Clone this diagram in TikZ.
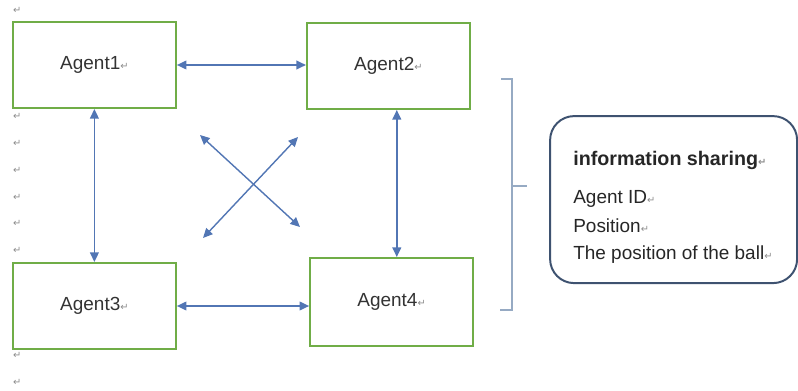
\documentclass[tikz,border=0pt]{standalone}
\usepackage{fontspec}
\setmainfont{Liberation Sans}
\newfontfamily\symfont{DejaVu Sans}
\usetikzlibrary{arrows.meta}

\definecolor{agentgreen}{RGB}{112,173,71}
\definecolor{linkblue}{RGB}{82,118,180}
\definecolor{bracketgray}{RGB}{150,170,195}
\definecolor{infoframe}{RGB}{62,82,112}

\newcommand{\pmark}{{\symfont\color{black!45}\fontsize{7}{7}\selectfont ↵}}

\begin{document}
\begin{tikzpicture}[
        agentbox/.style={draw=agentgreen, line width=1.4pt, minimum width=4.075cm,
            minimum height=2.15cm, inner sep=0pt, text=black!80,
            font=\fontsize{13.5}{15}\selectfont},
        link/.style={linkblue, line width=1pt,
            {Triangle[length=2.4mm,width=2.2mm]}-{Triangle[length=2.4mm,width=2.2mm]}},
        retmark/.style={inner sep=0pt},
        infobox/.style={draw=infoframe, line width=1.4pt, rounded corners=0.6cm,
            minimum width=6.175cm, minimum height=4.175cm},
        infotext/.style={anchor=west, inner sep=0pt, text=black!85,
            font=\fontsize{13.5}{15}\selectfont}
    ]
        \useasboundingbox (0, 0) rectangle (19.95, 9.75);

        \node[retmark] (m0) at (0.43, 9.5) {\pmark};
        \node[retmark] (m1) at (0.43, 6.85) {\pmark};
        \node[retmark] (m2) at (0.43, 6.175) {\pmark};
        \node[retmark] (m3) at (0.43, 5.5) {\pmark};
        \node[retmark] (m4) at (0.43, 4.825) {\pmark};
        \node[retmark] (m5) at (0.43, 4.175) {\pmark};
        \node[retmark] (m6) at (0.43, 3.5) {\pmark};
        \node[retmark] (m7) at (0.43, 0.875) {\pmark};
        \node[retmark] (m8) at (0.43, 0.2) {\pmark};

        \node[agentbox] (a1) at (2.36, 8.125) {Agent1\pmark};
        \node[agentbox] (a2) at (9.71, 8.1) {Agent2\pmark};
        \node[agentbox] (a3) at (2.36, 2.1) {Agent3\pmark};
        \node[agentbox, minimum height=2.2cm] (a4) at (9.79, 2.2) {Agent4\pmark};

        \draw[link] (a1.east) -- (a1.east -| a2.west);
        \draw[link] (a3.east) -- (a3.east -| a4.west);
        \draw[link] (a1.south) -- (a3.north);
        \draw[link] ([xshift=2.1mm]a2.south) -- ([xshift=2.1mm]a2.south |- a4.north);

        \coordinate (x1) at (5.0, 6.375);
        \coordinate (x2) at (7.5, 4.075);
        \coordinate (x3) at (7.45, 6.325);
        \coordinate (x4) at (5.075, 3.8);
        \draw[link] (x1) -- (x2);
        \draw[link] (x3) -- (x4);

        \draw[bracketgray, line width=0.8pt] (12.525, 7.775) -- (12.8, 7.775) -- (12.8, 2.0) -- (12.5, 2.0);
        \draw[bracketgray, line width=0.8pt] (12.8, 5.1) -- (13.175, 5.1);

        \node[infobox] (info) at (16.84, 4.76) { };
        \node[infotext, font=\fontsize{14}{16}\selectfont\bfseries] (title) at (14.325, 5.75) {information sharing\pmark};
        \node[infotext] (id) at (14.325, 4.78) {Agent ID\pmark};
        \node[infotext] (pos) at (14.325, 4.1) {Position\pmark};
        \node[infotext] (ball) at (14.325, 3.38) {The position of the ball\pmark};
    \end{tikzpicture}
\end{document}
